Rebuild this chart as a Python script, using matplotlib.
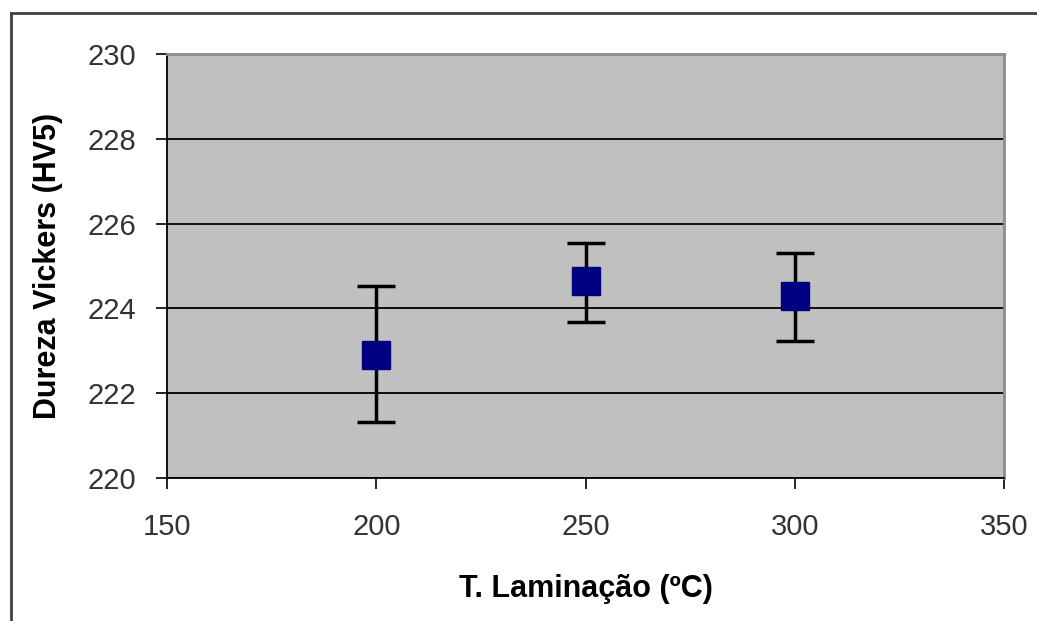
import numpy as np
import matplotlib.pyplot as plt
from matplotlib.lines import Line2D

plt.rcParams['font.family'] = ['Liberation Sans', 'DejaVu Sans']

# data
temps = [200, 250, 300]
hardness = [222.89, 224.65, 224.29]
err_low = [1.58, 0.96, 1.07]
err_high = [1.63, 0.90, 1.02]

fig = plt.figure(figsize=(10.37, 6.21), dpi=100)
ax = fig.add_axes([167/1037, 1 - 478/621, (1004 - 167)/1037, (478 - 54)/621])
ax.set_facecolor('#c0c0c0')

ax.errorbar(temps, hardness, yerr=[err_low, err_high], fmt='s', color='#000080',
            ms=20, mec='#000080', ecolor='black', elinewidth=2.5, capsize=14,
            capthick=2.5, zorder=3)

ax.set_xlim(150, 350)
ax.set_ylim(220, 230)
ax.set_xticks([150, 200, 250, 300, 350])
ax.set_yticks(np.arange(220, 231, 2))
ax.yaxis.grid(True, color='black', lw=1.3)
ax.set_axisbelow(True)

ax.tick_params(axis='both', direction='out', length=8, width=1.2, labelsize=21,
               colors='black', labelcolor='#333333')
ax.tick_params(axis='y', pad=14)
ax.tick_params(axis='x', pad=17)

for s in ['top', 'right']:
    ax.spines[s].set_color('#8c8c8c')
    ax.spines[s].set_linewidth(2)
for s in ['left', 'bottom']:
    ax.spines[s].set_color('black')
    ax.spines[s].set_linewidth(1.3)

ax.set_ylabel('Dureza Vickers (HV5)', fontsize=22, fontweight='bold', labelpad=18)
ax.set_xlabel('T. Laminação (ºC)', fontsize=22, fontweight='bold', labelpad=24)

# outer chart frame
fig.add_artist(Line2D([11/1037, 1], [1 - 13/621, 1 - 13/621], color='#404040', lw=2,
                      transform=fig.transFigure))
fig.add_artist(Line2D([11/1037, 11/1037], [0, 1 - 13/621], color='#404040', lw=2,
                      transform=fig.transFigure))

fig.savefig('out.png', dpi=100)
